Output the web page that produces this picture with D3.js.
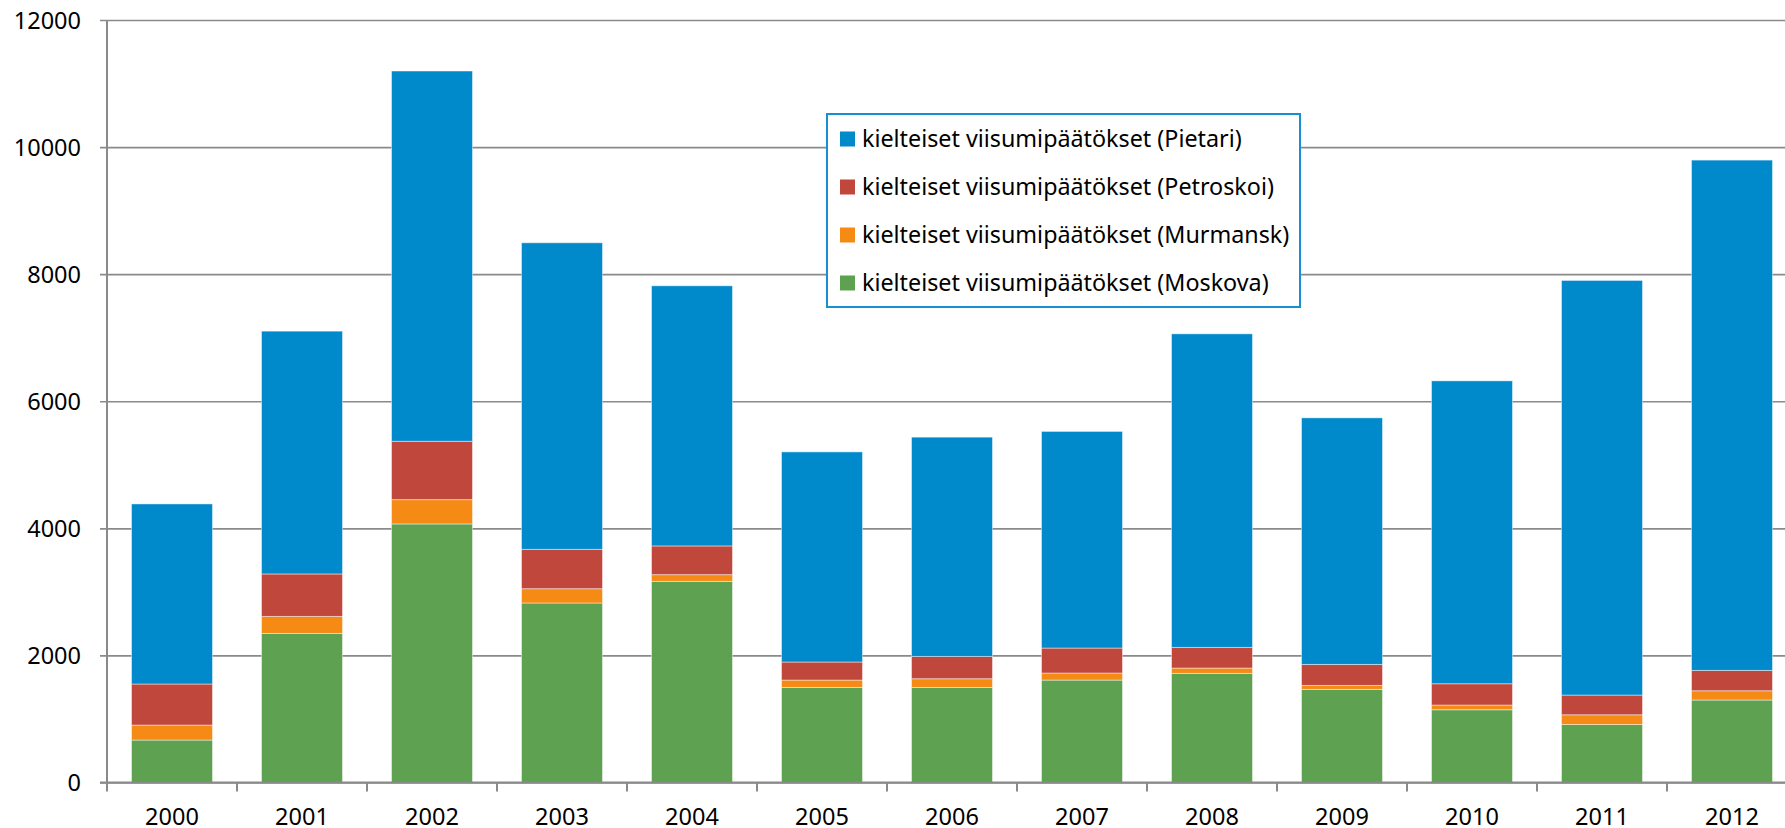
<!DOCTYPE html>
<html lang="fi">
<head>
    <meta charset="UTF-8">
    <title>Kielteiset viisumipäätökset</title>
    <script src="https://d3js.org/d3.v7.min.js"></script>
    <style>
        body {
            margin: 0;
            background: #fff;
            overflow: hidden;
        }
        text {
            font-family: "Noto Sans", "Open Sans", sans-serif;
            fill: #000;
        }
    </style>
</head>
<body>
    <div id="chart"></div>

    <script>
        const years = ["2000", "2001", "2002", "2003", "2004", "2005", "2006", "2007", "2008", "2009", "2010", "2011", "2012"];

        // stacked bottom to top: Moskova, Murmansk, Petroskoi, Pietari
        const moskova   = [668, 2346, 4069, 2825, 3165, 1496, 1496, 1612, 1717, 1465, 1145, 913, 1298];
        const murmansk  = [236, 268, 383, 225, 106, 116, 137, 111, 84, 63, 74, 153, 146];
        const petroskoi = [646, 668, 918, 619, 452, 284, 351, 393, 325, 330, 335, 310, 320];
        const pietari   = [2834, 3821, 5827, 4825, 4094, 3307, 3451, 3409, 4935, 3881, 4767, 6525, 8031];

        const yTicks = [0, 2000, 4000, 6000, 8000, 10000, 12000];

        const width = 1785, height = 828;
        const plotLeft = 107, plotRight = 1797, plotTop = 20, plotBottom = 782.5;

        const series = [
            { key: "moskova",   label: "kielteiset viisumipäätökset (Moskova)",   color: "#5ea151", values: moskova },
            { key: "murmansk",  label: "kielteiset viisumipäätökset (Murmansk)",  color: "#f58a15", values: murmansk },
            { key: "petroskoi", label: "kielteiset viisumipäätökset (Petroskoi)", color: "#bf473c", values: petroskoi },
            { key: "pietari",   label: "kielteiset viisumipäätökset (Pietari)",   color: "#0089cb", values: pietari }
        ];

        const table = years.map((yr, i) => {
            const row = { year: yr };
            series.forEach(s => row[s.key] = s.values[i]);
            return row;
        });

        const stacked = d3.stack().keys(series.map(s => s.key))(table);

        const svg = d3.select("#chart")
            .append("svg")
            .attr("width", width)
            .attr("height", height);

        const x = d3.scaleBand()
            .domain(years)
            .range([plotLeft, plotRight])
            .paddingInner(0.377)
            .paddingOuter(0.1885);

        const y = d3.scaleLinear()
            .domain([0, 12000])
            .range([plotBottom, plotTop]);

        // gridlines + y labels
        const yAxis = svg.append("g")
            .attr("transform", `translate(${plotLeft},0)`)
            .call(d3.axisLeft(y).tickValues(yTicks).tickSize(-(plotRight - plotLeft)).tickPadding(26).tickFormat(d3.format("d")));
        yAxis.select(".domain").remove();
        yAxis.selectAll(".tick line")
            .attr("x1", -7)
            .attr("stroke", "#8a8a8a")
            .attr("stroke-width", 1.6);
        yAxis.selectAll(".tick text")
            .attr("font-size", 23.5)
            .attr("dy", "0.36em");

        // bars
        svg.append("g")
            .selectAll("g")
            .data(stacked)
            .join("g")
            .attr("fill", (d, i) => series[i].color)
            .selectAll("rect")
            .data(d => d)
            .join("rect")
            .attr("x", d => x(d.data.year))
            .attr("y", d => y(d[1]))
            .attr("width", x.bandwidth())
            .attr("height", d => y(d[0]) - y(d[1]))
            .attr("stroke", "rgba(255,255,255,0.45)")
            .attr("stroke-width", 1);

        // axis lines
        svg.append("line")
            .attr("x1", plotLeft).attr("x2", plotLeft)
            .attr("y1", plotTop).attr("y2", plotBottom)
            .attr("stroke", "#8a8a8a")
            .attr("stroke-width", 2);

        svg.append("line")
            .attr("x1", plotLeft - 7).attr("x2", plotRight)
            .attr("y1", plotBottom).attr("y2", plotBottom)
            .attr("stroke", "#8a8a8a")
            .attr("stroke-width", 2);

        // category boundary ticks
        const boundaries = years.map((yr, i) => plotLeft + i * x.step()).concat([plotRight]);
        svg.append("g")
            .selectAll("line")
            .data(boundaries)
            .join("line")
            .attr("x1", d => d).attr("x2", d => d)
            .attr("y1", plotBottom).attr("y2", plotBottom + 9)
            .attr("stroke", "#8a8a8a")
            .attr("stroke-width", 2);

        // year labels (bottom edge of the image clips them slightly, as in the original)
        svg.append("g")
            .selectAll("text")
            .data(years)
            .join("text")
            .attr("x", d => x(d) + x.bandwidth() / 2)
            .attr("y", 825)
            .attr("text-anchor", "middle")
            .attr("font-size", 23.5)
            .text(d => d);

        // legend
        const legend = svg.append("g").attr("class", "legend");
        legend.append("rect")
            .attr("x", 827)
            .attr("y", 114)
            .attr("width", 473)
            .attr("height", 193)
            .attr("fill", "#fff")
            .attr("stroke", "#1a8fd0")
            .attr("stroke-width", 2);

        const rows = legend.selectAll("g.item")
            .data(series.slice().reverse())
            .join("g")
            .attr("class", "item")
            .attr("transform", (d, i) => `translate(840,${139 + i * 48})`);

        rows.append("rect")
            .attr("x", 0)
            .attr("y", -7.5)
            .attr("width", 15)
            .attr("height", 15)
            .attr("fill", d => d.color);

        rows.append("text")
            .attr("x", 22)
            .attr("dy", "0.35em")
            .attr("font-size", 23.3)
            .text(d => d.label);
    </script>
</body>
</html>
